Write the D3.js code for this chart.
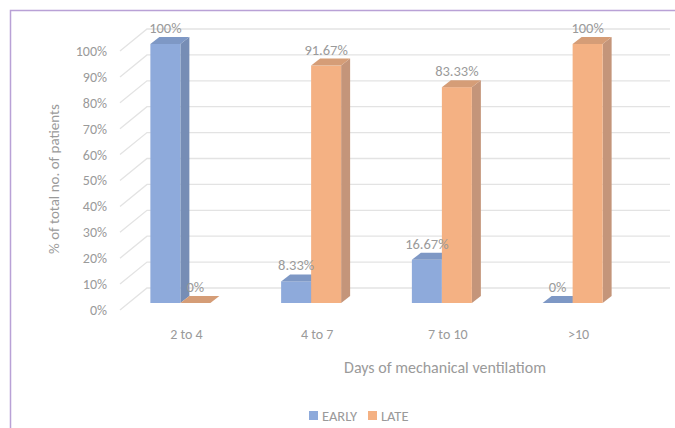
<!DOCTYPE html>
<html>
<head>
<meta charset="utf-8">
<script src="https://cdn.jsdelivr.net/npm/d3@7"></script>
<style>
  body { margin: 0; background: #fff; }
  svg text { font-family: Carlito, Lato, "Open Sans", sans-serif; fill: #9a9a9a; }
</style>
</head>
<body>
<div id="viz"></div>
<script>
const categories = ['2 to 4', '4 to 7', '7 to 10', '>10'];
const early = [1, 0.0833, 0.1667, 0];
const late = [0, 0.9167, 0.8333, 1];
const earlyLabels = ['100%', '8.33%', '16.67%', '0%'];
const lateLabels = ['0%', '91.67%', '83.33%', '100%'];
const yTicks = [0, 0.1, 0.2, 0.3, 0.4, 0.5, 0.6, 0.7, 0.8, 0.9, 1];

const colours = {
  EARLY: { front: '#8eaadb', top: '#7e98c5', side: '#768db5' },
  LATE: { front: '#f4b183', top: '#d59d77', side: '#c4957a' },
};

const width = 675;
const height = 428;

const svg = d3.select('#viz')
  .append('svg')
  .attr('width', width)
  .attr('height', height);

// outer frame
svg.append('path')
  .attr('d', `M${width + 2},10.5 H10.5 V${height + 2}`)
  .attr('fill', 'none')
  .attr('stroke', '#b9a1d6')
  .attr('stroke-width', 1.5);

const x = d3.scaleBand()
  .domain(categories)
  .range([115, 638]);

const y = d3.scaleLinear()
  .domain([0, 1])
  .range([303, 44]);

// wall depth offsets (front axis -> back wall) and bar depth
const wall = { dx: 27, front: 7, back: -15 };
const barW = 30;
const depth = { dx: 9, dy: -7 };

// gridlines on the back wall and floor-side diagonals
const grid = svg.append('g')
  .attr('stroke', '#e3e3e3')
  .attr('stroke-width', 1.3)
  .attr('fill', 'none');

yTicks.forEach((t) => {
  grid.append('path')
    .attr('d', `M120,${y(t) + wall.front} L${120 + wall.dx},${y(t) + wall.back} H670`);
});

// y tick labels
svg.append('g')
  .selectAll('text')
  .data(yTicks)
  .enter()
  .append('text')
  .attr('x', 107)
  .attr('y', d => y(d) + wall.front)
  .attr('dy', '0.35em')
  .attr('text-anchor', 'end')
  .style('font-size', '14px')
  .text(d => `${Math.round(d * 100)}%`);

const bars = [];
categories.forEach((c, i) => {
  const cx = x(c) + x.bandwidth() / 2;
  bars.push({ series: 'EARLY', x0: cx - barW, v: early[i], label: earlyLabels[i] });
  bars.push({ series: 'LATE', x0: cx, v: late[i], label: lateLabels[i] });
});

const bar = svg.append('g')
  .selectAll('g')
  .data(bars)
  .enter()
  .append('g');

const pts = p => p.map(q => q.join(',')).join(' ');

bar.append('polygon')
  .attr('points', (d) => {
    const x1 = d.x0 + barW;
    return pts([[x1, y(d.v)], [x1 + depth.dx, y(d.v) + depth.dy],
      [x1 + depth.dx, y(0) + depth.dy], [x1, y(0)]]);
  })
  .attr('fill', d => colours[d.series].side);

bar.append('rect')
  .attr('x', d => d.x0)
  .attr('y', d => y(d.v))
  .attr('width', barW)
  .attr('height', d => y(0) - y(d.v))
  .attr('fill', d => colours[d.series].front);

bar.append('polygon')
  .attr('points', (d) => {
    const x1 = d.x0 + barW;
    const yt = y(d.v);
    return pts([[d.x0, yt], [d.x0 + depth.dx, yt + depth.dy],
      [x1 + depth.dx, yt + depth.dy], [x1, yt]]);
  })
  .attr('fill', d => colours[d.series].top);

// data labels
svg.append('g')
  .selectAll('text')
  .data(bars)
  .enter()
  .append('text')
  .attr('x', d => d.x0 + barW / 2)
  .attr('y', d => y(d.v) - 11)
  .attr('text-anchor', 'middle')
  .style('font-size', '14.5px')
  .text(d => d.label);

// category labels
svg.append('g')
  .selectAll('text')
  .data(categories)
  .enter()
  .append('text')
  .attr('x', d => x(d) + x.bandwidth() / 2 + 6)
  .attr('y', 339)
  .attr('text-anchor', 'middle')
  .style('font-size', '14px')
  .text(d => d);

svg.append('text')
  .attr('x', 445)
  .attr('y', 373)
  .attr('text-anchor', 'middle')
  .style('font-size', '16px')
  .text('Days of mechanical ventilatiom');

svg.append('text')
  .attr('transform', 'translate(59, 179) rotate(-90)')
  .attr('text-anchor', 'middle')
  .style('font-size', '15px')
  .text('% of total no. of patients');

// legend
const legend = svg.append('g')
  .selectAll('g')
  .data(['EARLY', 'LATE'])
  .enter()
  .append('g')
  .attr('transform', (d, i) => `translate(${309 + i * 59}, 411)`);

legend.append('rect')
  .attr('width', 9)
  .attr('height', 9)
  .attr('fill', d => colours[d].front);

legend.append('text')
  .attr('x', 13)
  .attr('y', 9.5)
  .style('font-size', '14.5px')
  .text(d => d);
</script>
</body>
</html>
